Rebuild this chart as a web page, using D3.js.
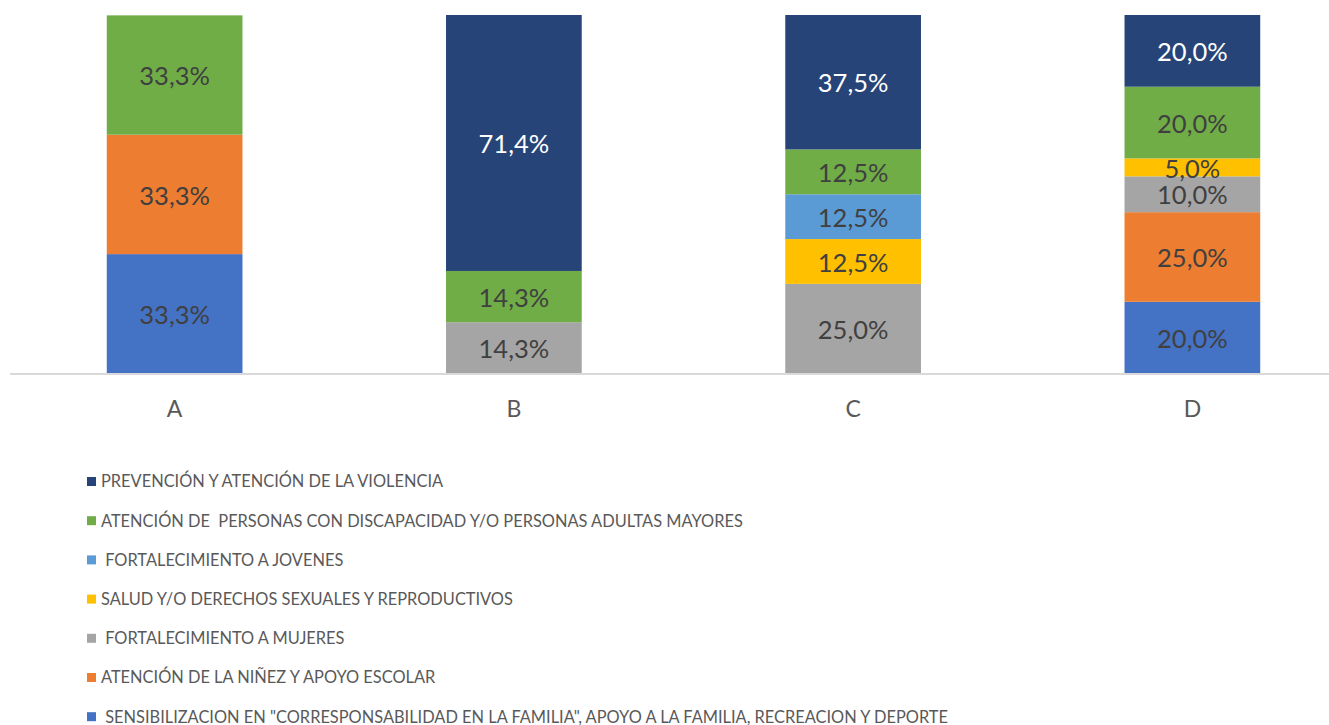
<!DOCTYPE html>
<html><head><meta charset="utf-8">
<script src="https://cdn.jsdelivr.net/npm/d3@7"></script>
<style>body{margin:0;background:#fff;} svg{display:block;}</style>
</head><body>
<svg id="chart" width="1329" height="725"></svg>
<script>
const categories = ["A", "B", "C", "D"];
// stacking order, bottom to top
const seriesNames = [
  " SENSIBILIZACION EN \"CORRESPONSABILIDAD EN LA FAMILIA\", APOYO A LA FAMILIA, RECREACION Y DEPORTE",
  "ATENCIÓN DE LA NIÑEZ Y APOYO ESCOLAR",
  " FORTALECIMIENTO A MUJERES",
  "SALUD Y/O DERECHOS SEXUALES Y REPRODUCTIVOS",
  " FORTALECIMIENTO A JOVENES",
  "ATENCIÓN DE  PERSONAS CON DISCAPACIDAD Y/O PERSONAS ADULTAS MAYORES",
  "PREVENCIÓN Y ATENCIÓN DE LA VIOLENCIA"
];
const seriesColors = ["#4472C4", "#ED7D31", "#A5A5A5", "#FFC000", "#5B9BD5", "#70AD47", "#264478"];
const sensibilizacion = [33.3, 0, 0, 20.0];
const ninez          = [33.3, 0, 0, 25.0];
const mujeres        = [0, 14.3, 25.0, 10.0];
const salud          = [0, 0, 12.5, 5.0];
const jovenes        = [0, 0, 12.5, 0];
const personas       = [33.3, 14.3, 12.5, 20.0];
const prevencion     = [0, 71.4, 37.5, 20.0];
const seriesValues = [sensibilizacion, ninez, mujeres, salud, jovenes, personas, prevencion];

const svg = d3.select("#chart");
const FONT = "Lato, 'Open Sans', sans-serif";

const x = d3.scaleBand().domain(categories).range([5, 1362]).paddingInner(0.6).paddingOuter(0.3);
const y = d3.scaleLinear().domain([0, 100]).range([373.5, 15]);

const rows = categories.map((c, i) => {
  const o = {cat: c};
  seriesNames.forEach((s, k) => o[k] = seriesValues[k][i]);
  return o;
});
const stack = d3.stack().keys(seriesNames.map((s, k) => k))(rows);

const g = svg.append("g");
stack.forEach((layer, k) => {
  const lg = g.append("g");
  layer.forEach((d, i) => {
    const v = seriesValues[k][i];
    if (!v) return;
    lg.append("rect")
      .attr("x", x(categories[i]))
      .attr("width", x.bandwidth())
      .attr("y", y(d[1]))
      .attr("height", y(d[0]) - y(d[1]))
      .attr("fill", seriesColors[k]);
  });
});
stack.forEach((layer, k) => {
  layer.forEach((d, i) => {
    const v = seriesValues[k][i];
    if (!v) return;
    g.append("text")
      .attr("x", x(categories[i]) + x.bandwidth() / 2)
      .attr("y", (y(d[0]) + y(d[1])) / 2)
      .attr("dy", "0.4em")
      .attr("text-anchor", "middle")
      .attr("font-family", FONT)
      .attr("font-size", 25.5)
      .attr("fill", k === 6 ? "#ffffff" : "#404040")
      .text(v.toFixed(1).replace(".", ",") + "%");
  });
});

// axis baseline
svg.append("line").attr("x1", 10).attr("x2", 1329).attr("y1", 374).attr("y2", 374)
  .attr("stroke", "#d9d9d9").attr("stroke-width", 2);

const xAxis = svg.append("g").attr("transform", "translate(0,374)")
  .call(d3.axisBottom(x).tickSize(0).tickPadding(27));
xAxis.select(".domain").remove();
xAxis.selectAll("text").attr("font-family", FONT).attr("font-size", 23).attr("fill", "#595959");

// legend (reverse order)
const legendOrder = d3.range(seriesNames.length).reverse();
const leg = svg.append("g");
legendOrder.forEach((k, j) => {
  const cy = 481.5 + j * 39.2;
  leg.append("rect").attr("x", 87).attr("y", cy - 4.5).attr("width", 9).attr("height", 9).attr("fill", seriesColors[k]);
  leg.append("text").attr("x", 101).attr("y", cy).attr("dy", "0.36em")
    .attr("font-family", FONT).attr("font-size", 16.4).attr("fill", "#595959")
    .attr("xml:space", "preserve").style("white-space", "pre")
    .text(seriesNames[k]);
});
</script>
</body></html>
